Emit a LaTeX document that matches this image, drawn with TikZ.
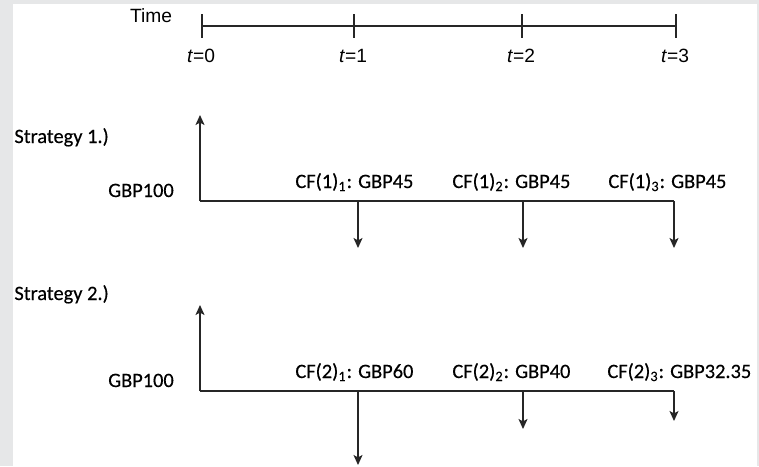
\documentclass[tikz,border=0pt]{standalone}
\usepackage{fontspec}
\setmainfont{Liberation Sans}
\newfontfamily\cffont[FakeBold=0.35]{Carlito}
\usetikzlibrary{arrows.meta}
\definecolor{frame-grey}{HTML}{E6E7E8}
\tikzset{
    time-label/.style = {font=\fontsize{9.6}{11}\selectfont, inner sep=0pt, anchor=base},
    cf-label/.style = {font=\cffont\fontsize{10.2}{12}\selectfont, inner sep=0pt, anchor=base west},
    flow-line/.style = {line width=0.65pt, black!85},
    flow-arrow/.style = {flow-line, -{Stealth[length=5pt, width=4.5pt, inset=1.2pt]}},
}

\begin{document}
\begin{tikzpicture}[x=0.5pt, y=-0.5pt]
\useasboundingbox (0,0) rectangle (759,466);
\fill[frame-grey] (0,0) rectangle (759,466);
\fill[white] (13,4) rectangle (757,466);

% time axis
\node[time-label] (time) at (151,22) {Time};
\coordinate (tick0) at (202,26);
\coordinate (tick3) at (676,26);
\draw[flow-line] (tick0) -- (tick3);
\foreach \x/\name [count=\i from 0] in {202/0, 354/1, 522/2, 676/3} {
    \draw[flow-line] (\x,14) -- (\x,38);
    \node[time-label] (t\i) at (\x-1,62) {\textit{t}=\name};
}

% strategy 1
\node[cf-label] (strategy1) at (14,143) {Strategy 1.)};
\coordinate (s1-origin) at (200,201);
\coordinate (s1-top) at (200,115);
\coordinate (s1-end) at (674,201);
\draw[flow-arrow] (s1-origin) -- (s1-top);
\draw[flow-line] (s1-origin) -- (s1-end);
\node[cf-label, anchor=base] (s1-invest) at (141,197) {GBP100};
\foreach \x [count=\i] in {358, 523, 674} {
    \coordinate (s1-pay\i) at (\x,201);
    \coordinate (s1-tip\i) at (\x,248);
    \draw[flow-arrow] (s1-pay\i) -- (s1-tip\i);
}
\node[cf-label] (s1-cf1) at (295,188) {CF(1)\textsubscript{1}: GBP45};
\node[cf-label] (s1-cf2) at (452,188) {CF(1)\textsubscript{2}: GBP45};
\node[cf-label] (s1-cf3) at (608,188) {CF(1)\textsubscript{3}: GBP45};

% strategy 2
\node[cf-label] (strategy2) at (14,300) {Strategy 2.)};
\coordinate (s2-origin) at (200,391);
\coordinate (s2-top) at (200,305);
\coordinate (s2-end) at (674,391);
\draw[flow-arrow] (s2-origin) -- (s2-top);
\draw[flow-line] (s2-origin) -- (s2-end);
\node[cf-label, anchor=base] (s2-invest) at (141,387) {GBP100};
\foreach \x/\y [count=\i] in {358/465, 523/429, 674/421} {
    \coordinate (s2-pay\i) at (\x,391);
    \coordinate (s2-tip\i) at (\x,\y);
    \draw[flow-arrow] (s2-pay\i) -- (s2-tip\i);
}
\node[cf-label] (s2-cf1) at (295,378) {CF(2)\textsubscript{1}: GBP60};
\node[cf-label] (s2-cf2) at (452,378) {CF(2)\textsubscript{2}: GBP40};
\node[cf-label] (s2-cf3) at (607,378) {CF(2)\textsubscript{3}: GBP32.35};
\end{tikzpicture}
\end{document}
